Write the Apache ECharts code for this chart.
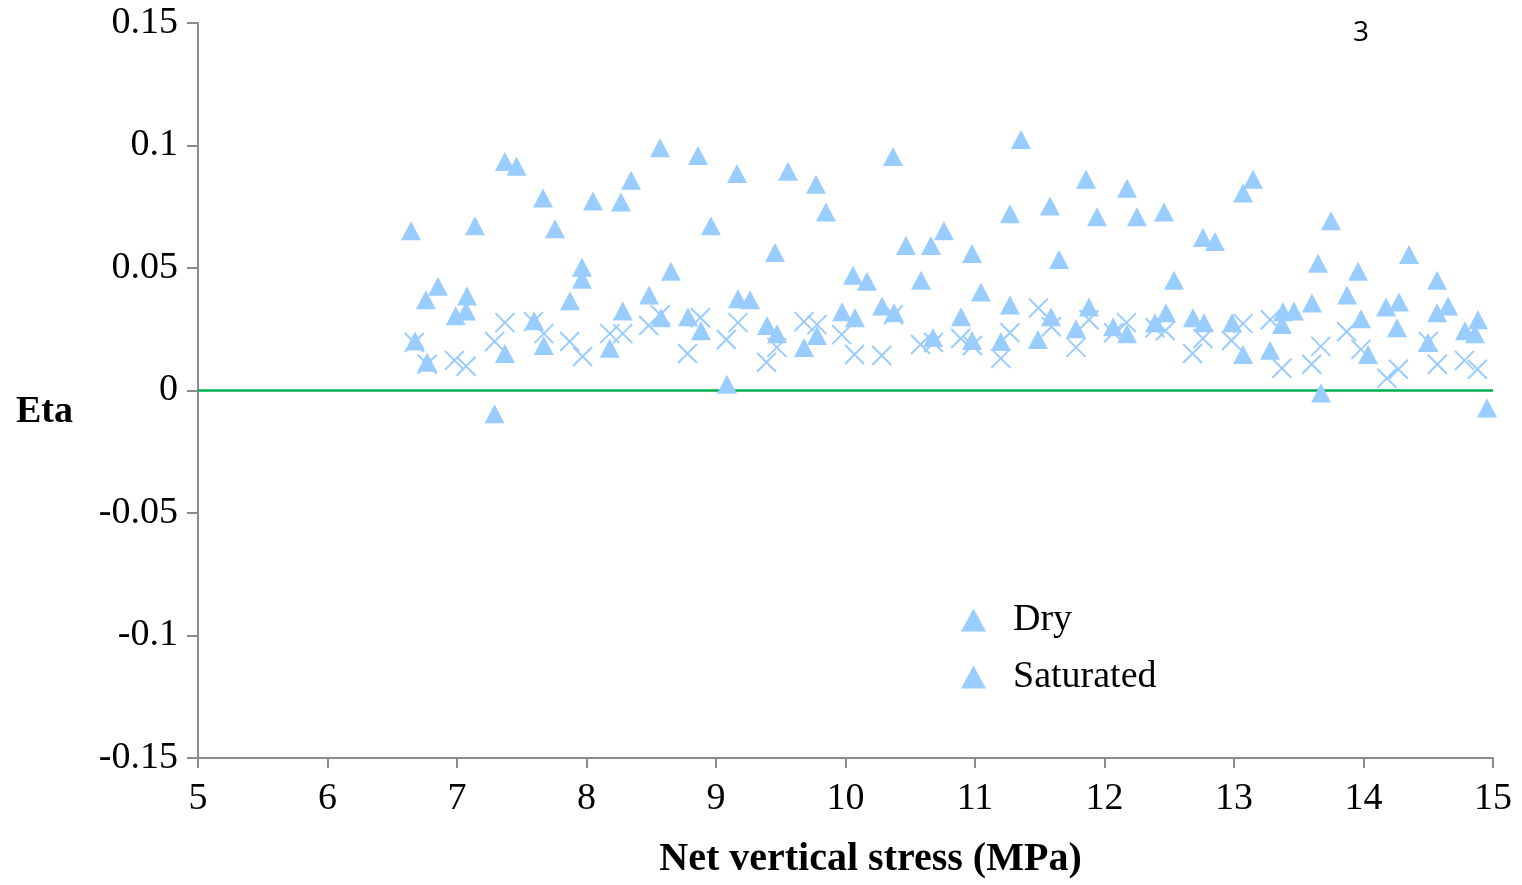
<!DOCTYPE html>
<html>
<head>
<meta charset="utf-8">
<script src="https://cdn.jsdelivr.net/npm/echarts@6/dist/echarts.min.js"></script>
<style>html,body{margin:0;padding:0;background:#fff}#c{width:1522px;height:885px}</style>
</head>
<body>
<div id="c"></div>
<script>
// Dry (triangles)
const dryX = [6.645,6.676,6.76,6.77,6.853,6.99,7.077,7.07,7.139,7.29,7.37,7.46,7.37,7.595,7.664,7.67,7.757,7.873,7.965,7.965,8.05,8.18,8.266,8.28,8.344,8.483,8.568,8.575,8.652,8.784,8.861,8.884,8.961,9.085,9.162,9.17,9.263,9.394,9.456,9.471,9.556,9.68,9.772,9.78,9.849,9.973,10.058,10.073,10.166,10.282,10.367,10.375,10.467,10.583,10.66,10.676,10.76,10.892,10.977,10.977,11.046,11.2,11.27,11.27,11.355,11.486,11.579,11.587,11.649,11.78,11.857,11.88,11.942,12.066,12.174,12.174,12.25,12.39,12.46,12.475,12.537,12.683,12.76,12.768,12.853,12.985,13.07,13.07,13.147,13.278,13.378,13.37,13.463,13.602,13.649,13.672,13.749,13.873,13.958,13.981,14.035,14.174,14.259,14.274,14.351,14.498,14.568,14.568,14.653,14.784,14.884,14.861,14.954];
const dryY = [0.0652,0.0202,0.037,0.0115,0.0426,0.0305,0.0386,0.0325,0.0672,-0.0095,0.0935,0.0915,0.0151,0.0285,0.0786,0.0184,0.066,0.0366,0.0503,0.0454,0.0773,0.0172,0.0769,0.0325,0.0858,0.039,0.0991,0.0297,0.0487,0.0301,0.0959,0.0244,0.0672,0.0026,0.0886,0.0374,0.037,0.0265,0.0563,0.0232,0.0895,0.0176,0.0842,0.0224,0.0729,0.0321,0.047,0.0297,0.0446,0.0345,0.0955,0.0317,0.0592,0.045,0.0592,0.0216,0.0652,0.0301,0.0559,0.0204,0.0402,0.02,0.0721,0.0349,0.1024,0.0208,0.0753,0.0301,0.0535,0.0252,0.0862,0.0341,0.0709,0.026,0.0826,0.0232,0.0709,0.0277,0.0729,0.0317,0.045,0.0297,0.0624,0.0277,0.0608,0.0277,0.0806,0.0147,0.0862,0.0164,0.0321,0.0269,0.0325,0.0357,0.0519,-0.001,0.0693,0.039,0.0487,0.0293,0.0147,0.0341,0.0256,0.0361,0.0555,0.0196,0.045,0.0317,0.0345,0.0244,0.0289,0.0232,-0.0071];
// Saturated (crosses)
const satX = [6.67,6.77,6.98,7.07,7.29,7.37,7.59,7.67,7.87,7.97,8.18,8.28,8.48,8.57,8.78,8.88,9.08,9.17,9.39,9.47,9.68,9.78,9.97,10.07,10.28,10.37,10.58,10.68,10.89,10.98,11.2,11.27,11.49,11.59,11.78,11.88,12.07,12.17,12.39,12.47,12.68,12.76,12.98,13.07,13.28,13.37,13.6,13.67,13.87,13.98,14.18,14.27,14.5,14.57,14.78,14.88];
const satY = [0.0196,0.0107,0.0123,0.0099,0.02,0.0277,0.0281,0.0232,0.02,0.0139,0.0232,0.0232,0.0265,0.0309,0.0151,0.0297,0.0208,0.0277,0.0115,0.0176,0.0281,0.0269,0.0228,0.0147,0.0143,0.0309,0.0188,0.0196,0.0212,0.0184,0.0131,0.0236,0.0337,0.026,0.0176,0.0289,0.0236,0.0277,0.0256,0.0244,0.0151,0.0212,0.0204,0.0273,0.0289,0.0091,0.0107,0.018,0.024,0.0168,0.005,0.0087,0.02,0.0107,0.0123,0.0087];
const seriesNames = ['Dry', 'Saturated'];
const xTitle = 'Net vertical stress (MPa)';
const yTitle = 'Eta';

const zip = (a, b) => a.map((v, i) => [v, b[i]]);
const serif = '"Liberation Serif", "Times New Roman", serif';
const axisGray = '#8c8c8c';
const markColor = '#99CCFF';

const chart = echarts.init(document.getElementById('c'));
chart.setOption({
  animation: false,
  backgroundColor: '#ffffff',
  grid: { left: 198, right: 29, top: 23, bottom: 121 },
  legend: {
    orient: 'vertical',
    left: 956,
    top: 596,
    itemWidth: 25,
    itemHeight: 23,
    itemGap: 19,
    data: [{ name: seriesNames[0], icon: 'triangle' }, { name: seriesNames[1], icon: 'triangle' }],
    itemStyle: { color: markColor, borderWidth: 0 },
    textStyle: { fontFamily: serif, fontSize: 38, color: '#000', lineHeight: 38, padding: [0, 0, 0, 22] }
  },
  graphic: [{
    type: 'text', left: 1353, top: 19,
    style: { text: '3', fontFamily: '"Open Sans", "Noto Sans", sans-serif', fontSize: 28, fill: '#000' }
  }],
  xAxis: {
    type: 'value', min: 5, max: 15, interval: 1,
    name: xTitle, nameLocation: 'middle', nameGap: 82,
    nameTextStyle: { fontFamily: serif, fontSize: 40, fontWeight: 'bold', color: '#000', padding: [0, 0, 0, 50] },
    axisLine: { show: true, onZero: false, lineStyle: { color: axisGray, width: 2 } },
    axisTick: { show: true, length: 10, lineStyle: { color: axisGray, width: 2 } },
    axisLabel: { fontFamily: serif, fontSize: 38, color: '#000', margin: 22 },
    splitLine: { show: false }
  },
  yAxis: {
    type: 'value', min: -0.15, max: 0.15, interval: 0.05,
    name: yTitle, nameLocation: 'middle', nameRotate: 0, nameGap: 125,
    nameTextStyle: { fontFamily: serif, fontSize: 38, fontWeight: 'bold', color: '#000', verticalAlign: 'top', lineHeight: 44 },
    axisLine: { show: true, lineStyle: { color: axisGray, width: 2 } },
    axisTick: { show: true, length: 11, lineStyle: { color: axisGray, width: 2 } },
    axisLabel: { fontFamily: serif, fontSize: 38, color: '#000', margin: 20,
      formatter: v => String(+v.toFixed(2)) },
    splitLine: { show: false }
  },
  series: [
    {
      name: seriesNames[0], type: 'scatter', z: 3,
      symbol: 'triangle', symbolSize: [20, 19],
      itemStyle: { color: markColor, opacity: 1 },
      data: zip(dryX, dryY),
      markLine: {
        silent: true, symbol: 'none', z: 1,
        label: { show: false },
        lineStyle: { color: '#00B050', width: 2.5, type: 'solid' },
        data: [{ yAxis: 0 }]
      }
    },
    {
      name: seriesNames[1], type: 'scatter', z: 4,
      symbol: 'path://M0,0L20,20M20,0L0,20', symbolSize: 19,
      itemStyle: { color: 'rgba(0,0,0,0)', borderColor: markColor, borderWidth: 2, opacity: 1 },
      data: zip(satX, satY)
    }
  ]
});
</script>
</body>
</html>
